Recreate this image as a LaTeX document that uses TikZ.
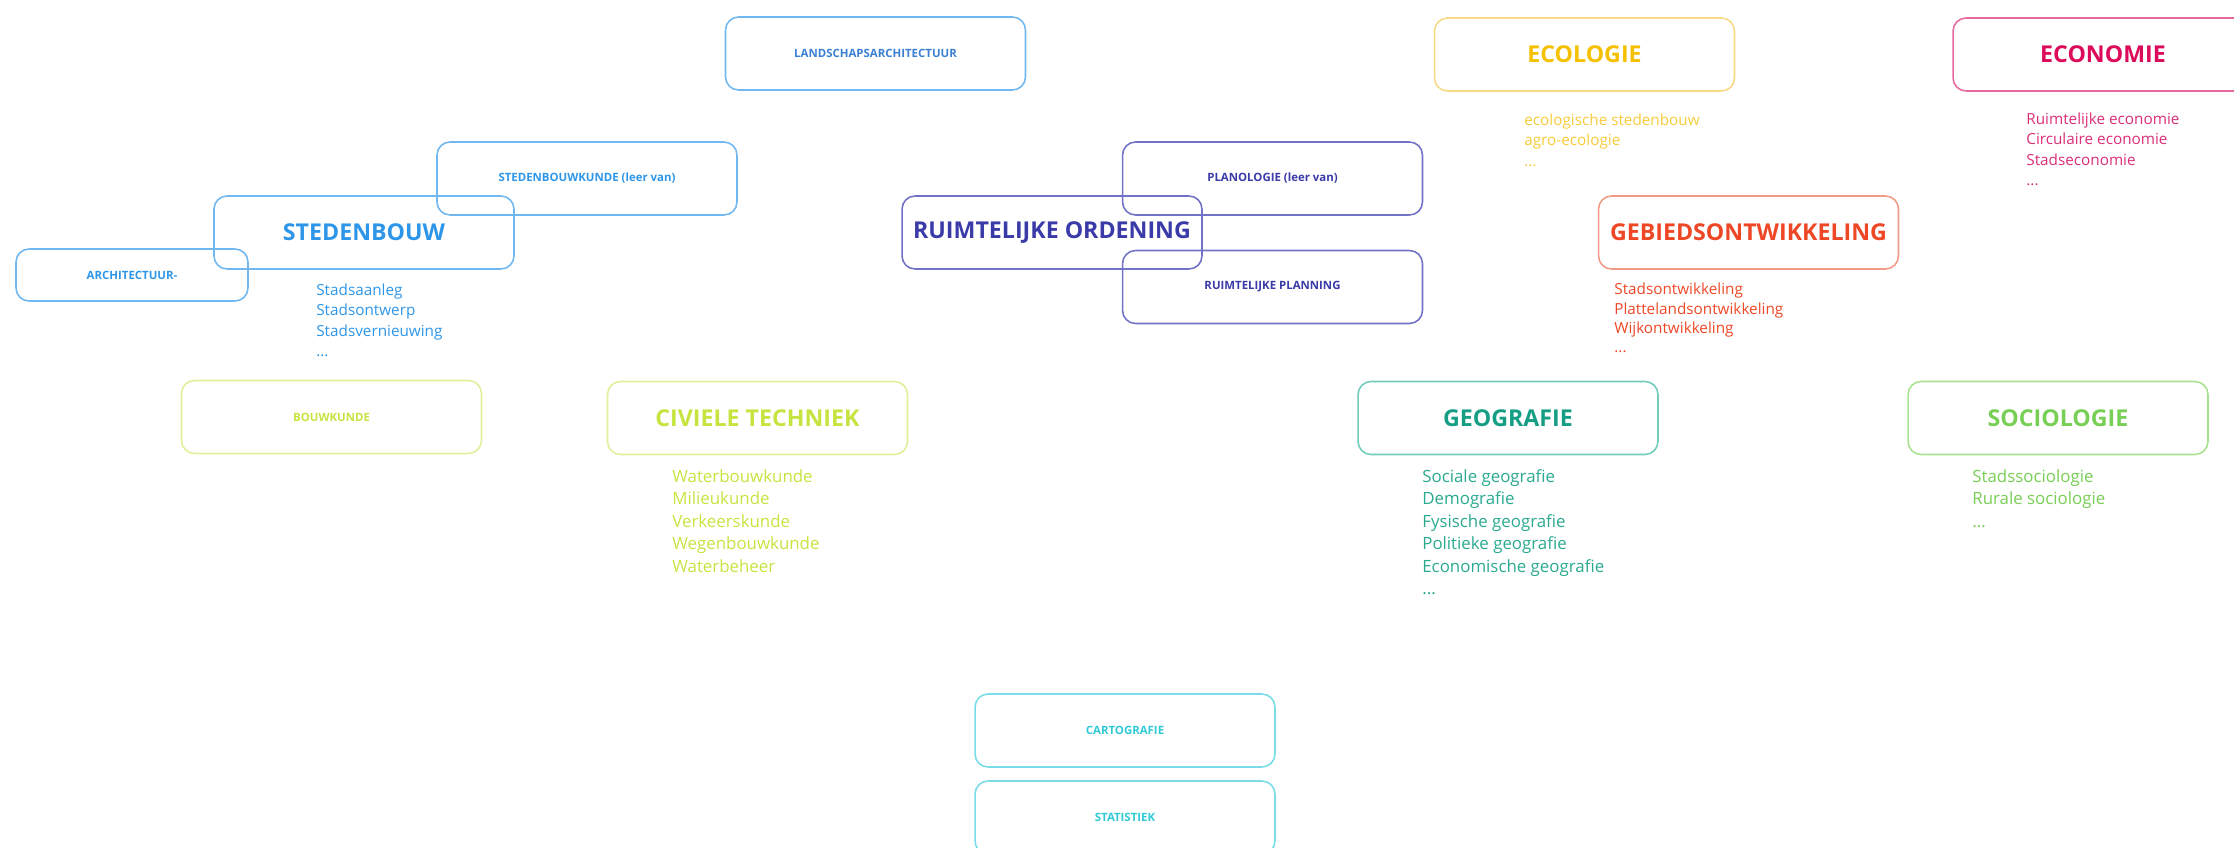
\documentclass[tikz,border=0pt]{standalone}
\usepackage{fontspec}
\setmainfont{Open Sans}
\definecolor{blueT}{HTML}{2E96E8}\definecolor{blueB}{HTML}{72B8F0}
\definecolor{landT}{HTML}{3A80D2}
\definecolor{indT}{HTML}{3A3AA8}\definecolor{indB}{HTML}{7272C6}
\definecolor{yelT}{HTML}{F5C000}\definecolor{yelB}{HTML}{F8DA84}\definecolor{yelL}{HTML}{F7CB3A}
\definecolor{pinkT}{HTML}{DC0A5A}\definecolor{pinkB}{HTML}{E46AA0}\definecolor{pinkL}{HTML}{DA2F78}
\definecolor{oraT}{HTML}{EE4726}\definecolor{oraB}{HTML}{F29A88}
\definecolor{limT}{HTML}{C5E440}\definecolor{limB}{HTML}{DDF09A}
\definecolor{tealT}{HTML}{169E84}\definecolor{tealB}{HTML}{70CDBB}\definecolor{tealL}{HTML}{2AAA90}
\definecolor{grnT}{HTML}{78CF55}\definecolor{grnB}{HTML}{A8E290}
\definecolor{cyT}{HTML}{2FCAD6}\definecolor{cyB}{HTML}{7ADCE6}
\begin{document}
\begin{tikzpicture}[x=0.02cm,y=-0.02cm,
 box/.style={draw=#1, rounded corners=0.26cm, line width=0.9pt, minimum width=6cm, minimum height=1.46cm, inner sep=0pt},
 big/.style={font=\fontsize{13.2}{16}\selectfont\bfseries},
 small/.style={font=\fontsize{6.5}{8}\selectfont\bfseries},
 lst/.style={anchor=north west, align=left, inner sep=0pt, font=\fontsize{8.7}{11.4}\selectfont},
 lstb/.style={anchor=north west, align=left, inner sep=0pt, font=\fontsize{9.6}{12.8}\selectfont},
]
\useasboundingbox (0,0) rectangle (2234,848);
\clip (0,0) rectangle (2234,848);
% blue group
\node[box=blueB, small, text=landT] (land) at (875.5,53.5) {LANDSCHAPSARCHITECTUUR};
\node[box=blueB, small, text=blueT] (stbk) at (587,178.5) {STEDENBOUWKUNDE (leer van)};
\node[box=blueB, big, text=blueT] (stb) at (364,232.5) {STEDENBOUW};
\node[box=blueB, small, text=blueT, minimum width=4.64cm, minimum height=1.04cm] (arch) at (132,275) {ARCHITECTUUR-};
\node[lst, text=blueT] (stbl) at (316,284) {Stadsaanleg\\Stadsontwerp\\Stadsvernieuwing\\...};
% indigo group
\node[box=indB, big, text=indT] (ro) at (1052,232.5) {RUIMTELIJKE ORDENING};
\node[box=indB, small, text=indT] (plan) at (1272.5,178.5) {PLANOLOGIE (leer van)};
\node[box=indB, small, text=indT] (rp) at (1272.5,287) {RUIMTELIJKE PLANNING};
% ecologie
\node[box=yelB, big, text=yelT] (eco) at (1584.5,54.5) {ECOLOGIE};
\node[lst, text=yelL] (ecol) at (1524,114) {ecologische stedenbouw\\agro-ecologie\\...};
% economie
\node[box=pinkB, big, text=pinkT] (econ) at (2103,54.5) {ECONOMIE};
\node[lst, text=pinkL] (econl) at (2026,113) {Ruimtelijke economie\\Circulaire economie\\Stadseconomie\\...};
% gebiedsontwikkeling
\node[box=oraB, big, text=oraT] (geb) at (1748.5,232.5) {GEBIEDSONTWIKKELING};
\node[lst, text=oraT, font=\fontsize{8.7}{11}\selectfont] (gebl) at (1614,283) {Stadsontwikkeling\\Plattelandsontwikkeling\\Wijkontwikkeling\\...};
% lime
\node[box=limB, small, text=limT] (bouw) at (331.5,417) {BOUWKUNDE};
\node[box=limB, big, text=limT] (civ) at (757.5,418) {CIVIELE TECHNIEK};
\node[lstb, text=limT] (civl) at (672,469) {Waterbouwkunde\\Milieukunde\\Verkeerskunde\\Wegenbouwkunde\\Waterbeheer};
% geografie
\node[box=tealB, big, text=tealT] (geo) at (1508,418) {GEOGRAFIE};
\node[lstb, text=tealL] (geol) at (1422,469) {Sociale geografie\\Demografie\\Fysische geografie\\Politieke geografie\\Economische geografie\\...};
% sociologie
\node[box=grnB, big, text=grnT] (soc) at (2058,418) {SOCIOLOGIE};
\node[lstb, text=grnT] (socl) at (1972,469) {Stadssociologie\\Rurale sociologie\\...};
% cyan
\node[box=cyB, small, text=cyT] (carto) at (1125,730.5) {CARTOGRAFIE};
\node[box=cyB, small, text=cyT] (stat) at (1125,817.5) {STATISTIEK};
\end{tikzpicture}
\end{document}
